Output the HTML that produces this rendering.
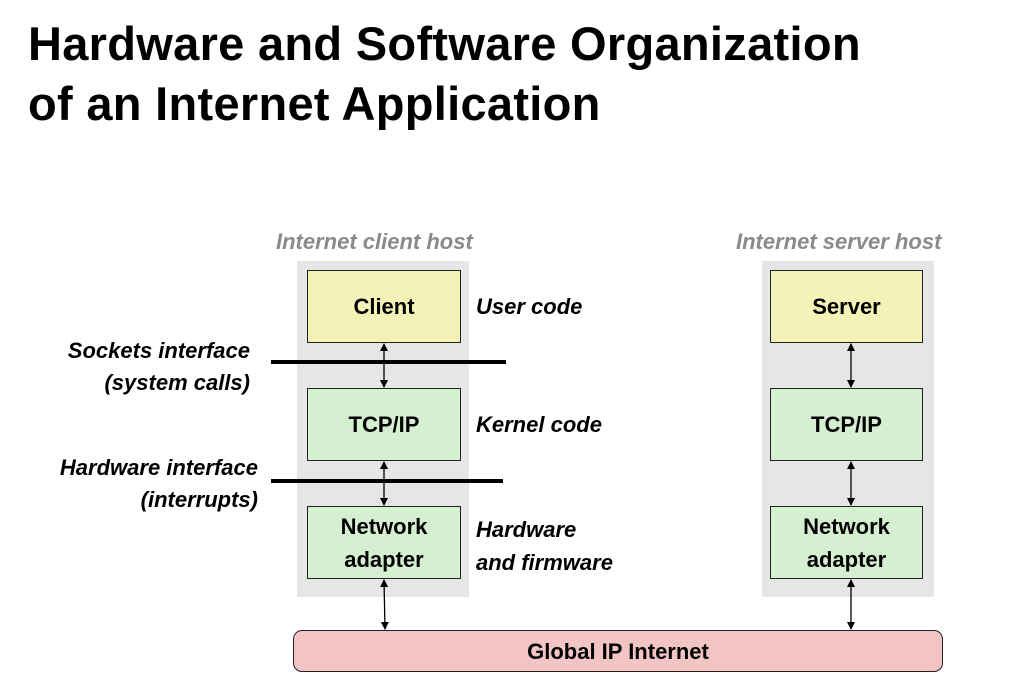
<!DOCTYPE html>
<html><head><style>
body{margin:0;width:1024px;height:700px;background:#fff;font-family:"Liberation Sans",sans-serif;position:relative;overflow:hidden}
.a{position:absolute}
h1{position:absolute;left:28px;top:14px;margin:0;font-size:47px;line-height:60px;font-weight:bold;color:#000;letter-spacing:0.3px}
.panel{position:absolute;background:#e6e6e6}
.box{position:absolute;border:1.5px solid #222;box-sizing:border-box;display:flex;align-items:center;justify-content:center;text-align:center;font-weight:bold;font-size:22px;line-height:33px}
.y{background:#f5f2b8}.g{background:#d5f0d0}
.lbl{position:absolute;font-style:italic;font-weight:bold;font-size:22px;white-space:nowrap}
.hd{color:#8a8a8a}
</style></head><body>
<h1>Hardware and Software Organization<br>of an Internet Application</h1>
<div class="lbl hd" style="left:276px;top:229px">Internet client host</div>
<div class="lbl hd" style="left:736px;top:229px">Internet server host</div>
<div class="panel" style="left:297px;top:261px;width:172px;height:336px"></div>
<div class="panel" style="left:762px;top:261px;width:172px;height:336px"></div>
<div class="box y" style="left:307px;top:270px;width:154px;height:73px">Client</div>
<div class="box g" style="left:307px;top:388px;width:154px;height:73px">TCP/IP</div>
<div class="box g" style="left:307px;top:506px;width:154px;height:73px">Network<br>adapter</div>
<div class="box y" style="left:770px;top:270px;width:153px;height:73px">Server</div>
<div class="box g" style="left:770px;top:388px;width:153px;height:73px">TCP/IP</div>
<div class="box g" style="left:770px;top:506px;width:153px;height:73px">Network<br>adapter</div>
<div class="box" style="left:293px;top:630px;width:650px;height:42px;border-radius:9px;background:#f2c4c4">Global IP Internet</div>
<div class="lbl" style="left:476px;top:294px">User code</div>
<div class="lbl" style="left:476px;top:412px">Kernel code</div>
<div class="lbl" style="left:476px;top:513px;line-height:33px">Hardware<br>and firmware</div>
<div class="lbl" style="left:20px;top:335px;text-align:right;width:230px;line-height:32px">Sockets interface<br>(system calls)</div>
<div class="lbl" style="left:0px;top:452px;text-align:right;width:258px;line-height:32px">Hardware interface<br>(interrupts)</div>
<svg class="a" style="left:0;top:0" width="1024" height="700">
<defs><marker id="m" markerWidth="8" markerHeight="8" refX="7" refY="4" orient="auto-start-reverse" markerUnits="userSpaceOnUse"><path d="M0,0L8,4L0,8z" fill="#000"/></marker></defs>
<line x1="271" y1="362" x2="506" y2="362" stroke="#000" stroke-width="4"/>
<line x1="271" y1="481" x2="503" y2="481" stroke="#000" stroke-width="4"/>
<g stroke="#000" stroke-width="1.3" marker-start="url(#m)" marker-end="url(#m)">
<line x1="384" y1="344" x2="384" y2="387"/>
<line x1="384" y1="462" x2="384" y2="505"/>
<line x1="384" y1="580" x2="385" y2="629"/>
<line x1="851" y1="344" x2="851" y2="387"/>
<line x1="851" y1="462" x2="851" y2="505"/>
<line x1="851" y1="580" x2="851" y2="629"/>
</g>
</svg>
</body></html>
